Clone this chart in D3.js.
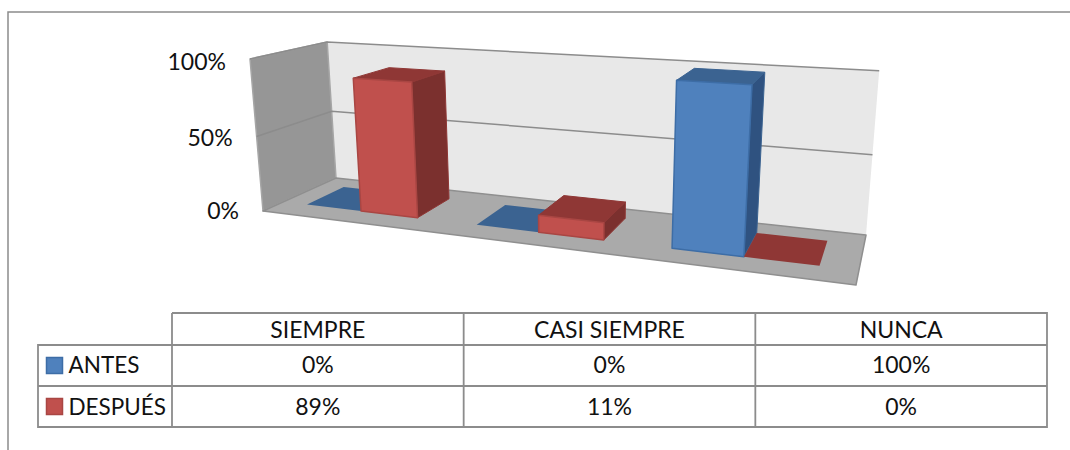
<!DOCTYPE html>
<html>
<head>
<meta charset="utf-8">
<script src="https://cdn.jsdelivr.net/npm/d3@7"></script>
<style>
  html, body { margin: 0; padding: 0; background: #fff; }
  svg { display: block; }
  text { font-family: Lato, "Open Sans", sans-serif; fill: #111; }
</style>
</head>
<body>
<svg id="chart" width="1070" height="450"></svg>
<script>
const categories = ['SIEMPRE', 'CASI SIEMPRE', 'NUNCA'];
const seriesNames = ['ANTES', 'DESPUÉS'];
const antes = [0, 0, 1];
const despues = [0.89, 0.11, 0];
const yTicks = [0, 0.5, 1];

const pct = d3.format('.0%');
const svg = d3.select('#chart');

// Colours per series: front, top, side, outline
const colors = {
  ANTES: { front: '#4f81bd', top: '#3b6391', side: '#2f5280', line: '#3d6da6' },
  'DESPUÉS': { front: '#c0504d', top: '#8f3735', side: '#7b302e', line: '#a94643' }
};
const lineGray = '#8c8c8c';

// Outer frame, only top and left are visible
svg.append('path')
  .attr('d', 'M8,450V12H1070')
  .attr('fill', 'none')
  .attr('stroke', lineGray)
  .attr('stroke-width', 1.5);

// Perspective box: corners of the plot in pixels, weights fitted by eye
const O = [263, 211]; // front left bottom
const U = [856, 285]; // front right bottom
const V = [336, 178]; // back left bottom
const W = [250, 59];  // front left top
const wu = 0.80, wv = 1.1226, ww = 0.96;

function project(u, v, w) {
  const d = 1 + u * (wu - 1) + v * (wv - 1) + w * (ww - 1);
  const c = (i) => O[i]
    + u * (wu * U[i] - O[i])
    + v * (wv * V[i] - O[i])
    + w * (ww * W[i] - O[i]);
  return [c(0) / d, c(1) / d];
}

const x0 = d3.scaleBand().domain(categories).range([-0.006, 1]);
const x1 = d3.scaleBand().domain(seriesNames).range([0, x0.bandwidth()]).paddingOuter(0.5);
const y = d3.scaleLinear().domain([0, 1]).range([0, 1]);
// Bars stop a little under the top gridline
const yBar = d3.scaleLinear().domain([0, 1]).range([0, 0.986]);
const depth = d3.scaleLinear().domain([0, 1]).range([0.26, 0.78]);

const plot = svg.append('g');

function quad(g, pts, fill, stroke, sw) {
  g.append('polygon')
    .attr('points', pts.map((p) => p.join(',')).join(' '))
    .attr('fill', fill)
    .attr('stroke', stroke || 'none')
    .attr('stroke-width', sw || 1)
    .attr('stroke-linejoin', 'round');
}

// Walls and floor
quad(plot, [project(0, 1, 0), project(1, 1, 0), project(1, 1, 1), project(0, 1, 1)], '#e8e8e8');
quad(plot, [project(0, 0, 0), project(0, 1, 0), project(0, 1, 1), project(0, 0, 1)], '#969696', '#a6a6a6', 1.5);
quad(plot, [project(0, 0, 0), project(1, 0, 0), project(1, 1, 0), project(0, 1, 0)], '#aaaaaa', '#8f8f8f', 1.5);

// Gridlines run along the left wall then the back wall
yTicks.filter((t) => t > 0).forEach((t) => {
  plot.append('polyline')
    .attr('points', [project(0, 0, t), project(0, 1, t), project(1, 1, t)].map((p) => p.join(',')).join(' '))
    .attr('fill', 'none')
    .attr('stroke', lineGray)
    .attr('stroke-width', 1.5);
});

// Y axis labels
plot.selectAll('text.tick')
  .data(yTicks)
  .join('text')
  .attr('class', 'tick')
  .attr('x', (d) => project(0, 0, y(d))[0] - 24)
  .attr('y', (d) => project(0, 0, y(d))[1] + 8 + 3 * d)
  .attr('text-anchor', 'end')
  .attr('font-size', 23)
  .text((d) => pct(d));

// Bars, series by series inside each category
categories.forEach((cat, i) => {
  [antes[i], despues[i]].forEach((val, s) => {
    const name = seriesNames[s];
    const c = colors[name];
    const u0 = x0(cat) + x1(name);
    const u1 = u0 + x1.bandwidth();
    const v0 = depth(0);
    const v1 = depth(1);
    const h = yBar(val);
    const g = plot.append('g').attr('class', 'bar');
    if (val > 0) {
      quad(g, [project(u1, v0, 0), project(u1, v1, 0), project(u1, v1, h), project(u1, v0, h)], c.side, c.top, 1);
    }
    quad(g, [project(u0, v0, h), project(u1, v0, h), project(u1, v1, h), project(u0, v1, h)], c.top, val > 0 ? c.top : 'none', 1);
    if (val > 0) {
      quad(g, [project(u0, v0, 0), project(u1, v0, 0), project(u1, v0, h), project(u0, v0, h)], c.front, c.line, 1.5);
    }
  });
});

// Data table under the plot
const colX = d3.scaleBand().domain(categories).range([172, 1047]);
const rowY = d3.scaleBand().domain(seriesNames).range([345, 427]);
const headTop = 313;
const table = svg.append('g');

table.append('path')
  .attr('d', [
    `M172,${headTop}H1047V427H38V345H1047`,
    `M38,386H1047`,
    `M172,${headTop}V427`,
    ...categories.slice(1).map((c) => `M${colX(c)},${headTop}V427`)
  ].join(''))
  .attr('fill', 'none')
  .attr('stroke', lineGray)
  .attr('stroke-width', 1.8);

table.selectAll('text.head')
  .data(categories)
  .join('text')
  .attr('class', 'head')
  .attr('x', (d) => colX(d) + colX.bandwidth() / 2)
  .attr('y', 338)
  .attr('text-anchor', 'middle')
  .attr('font-size', 23)
  .text((d) => d);

seriesNames.forEach((name, s) => {
  const vals = s === 0 ? antes : despues;
  const rowBase = rowY(name) + rowY.bandwidth() / 2 + 8;
  table.append('rect')
    .attr('x', 46.5)
    .attr('y', rowY(name) + 12.5)
    .attr('width', 16)
    .attr('height', 16)
    .attr('fill', colors[name].front)
    .attr('stroke', colors[name].line)
    .attr('stroke-width', 1.5);
  table.append('text')
    .attr('x', 68.5)
    .attr('y', rowBase - (s === 0 ? 1 : 0))
    .attr('font-size', 22.5)
    .text(name);
  table.selectAll(`text.val${s}`)
    .data(vals)
    .join('text')
    .attr('class', `val${s}`)
    .attr('x', (d, i) => colX(categories[i]) + colX.bandwidth() / 2)
    .attr('y', rowBase - (s === 0 ? 1 : 0))
    .attr('text-anchor', 'middle')
    .attr('font-size', 23)
    .text((d) => pct(d));
});
</script>
</body>
</html>
